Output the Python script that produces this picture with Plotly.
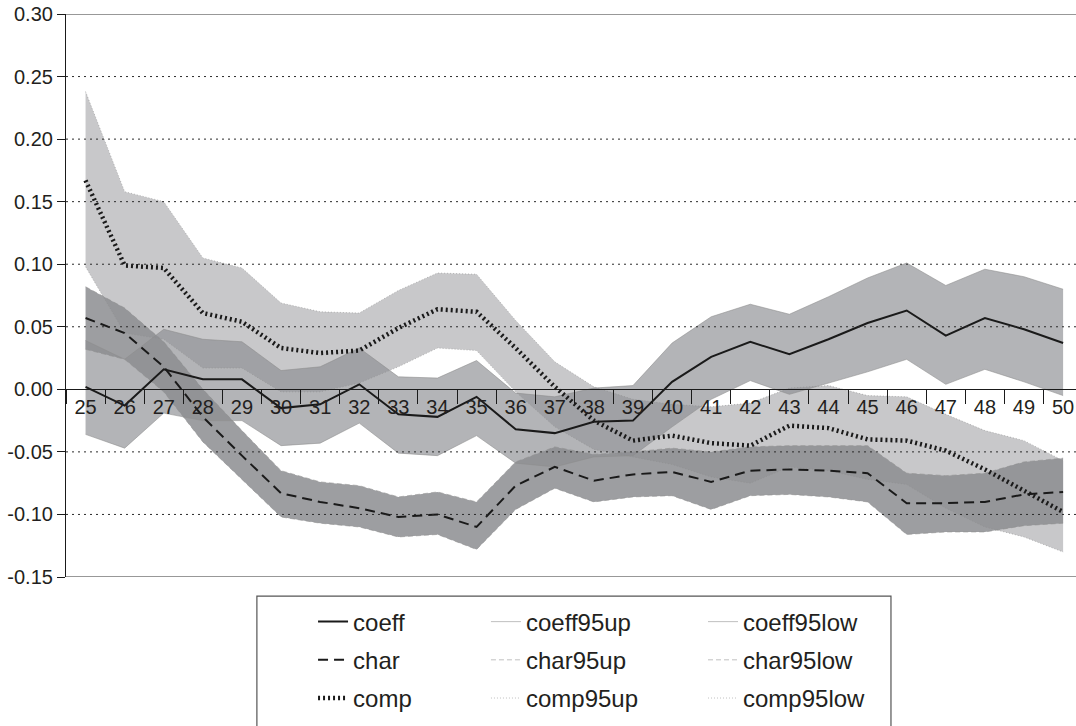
import plotly.graph_objects as go

# Horizon (quarters) on the x axis
horizons = [str(h) for h in range(25, 51)]

coeff = [0.002, -0.013, 0.016, 0.008, 0.008, -0.015, -0.012, 0.004, -0.020, -0.022,
         -0.006, -0.032, -0.035, -0.026, -0.025, 0.006, 0.026, 0.038, 0.028, 0.040,
         0.053, 0.063, 0.043, 0.057, 0.048, 0.037]
coeff95up = [0.039, 0.024, 0.048, 0.040, 0.038, 0.015, 0.018, 0.033, 0.010, 0.009,
             0.023, -0.003, -0.006, 0.001, 0.003, 0.037, 0.058, 0.068, 0.060, 0.074,
             0.089, 0.101, 0.083, 0.096, 0.090, 0.080]
coeff95low = [-0.036, -0.047, -0.019, -0.025, -0.025, -0.045, -0.043, -0.027, -0.051, -0.053,
              -0.037, -0.059, -0.062, -0.054, -0.053, -0.030, -0.008, 0.007, -0.004, 0.005,
              0.014, 0.024, 0.004, 0.016, 0.006, -0.005]

char = [0.057, 0.045, 0.018, -0.022, -0.053, -0.083, -0.090, -0.095, -0.102, -0.100,
        -0.110, -0.077, -0.062, -0.073, -0.068, -0.066, -0.074, -0.065, -0.064, -0.065,
        -0.067, -0.091, -0.091, -0.090, -0.084, -0.082]
char95up = [0.082, 0.065, 0.038, 0.000, -0.033, -0.065, -0.074, -0.077, -0.086, -0.082,
            -0.090, -0.058, -0.046, -0.052, -0.050, -0.047, -0.050, -0.046, -0.045, -0.045,
            -0.045, -0.067, -0.069, -0.067, -0.058, -0.055]
char95low = [0.032, 0.024, -0.002, -0.042, -0.072, -0.102, -0.107, -0.110, -0.118, -0.116,
             -0.128, -0.096, -0.079, -0.090, -0.086, -0.085, -0.096, -0.085, -0.084, -0.086,
             -0.090, -0.116, -0.114, -0.114, -0.109, -0.107]

comp = [0.167, 0.099, 0.097, 0.061, 0.054, 0.033, 0.029, 0.031, 0.049, 0.064,
        0.062, 0.033, 0.002, -0.025, -0.041, -0.037, -0.043, -0.045, -0.029, -0.031,
        -0.040, -0.041, -0.049, -0.064, -0.081, -0.098]
comp95up = [0.238, 0.158, 0.150, 0.105, 0.097, 0.069, 0.062, 0.061, 0.079, 0.093,
            0.092, 0.055, 0.022, 0.002, -0.008, -0.012, -0.014, -0.011, 0.001, 0.003,
            -0.005, -0.006, -0.020, -0.033, -0.041, -0.057]
comp95low = [0.098, 0.045, 0.040, 0.017, 0.017, -0.002, -0.002, 0.005, 0.018, 0.033,
             0.031, -0.002, -0.030, -0.048, -0.054, -0.060, -0.070, -0.075, -0.062, -0.065,
             -0.072, -0.076, -0.095, -0.110, -0.118, -0.130]

y_ticks = [0.30, 0.25, 0.20, 0.15, 0.10, 0.05, 0.00, -0.05, -0.10, -0.15]
y_labels = ['0.30', '0.25', '0.20', '0.15', '0.10', '0.05', '0.00', '-0.05', '-0.10', '-0.15']

FONT = 'Liberation Sans, Arial, sans-serif'
TEXT_COLOUR = '#231f20'
BOUND_COLOUR = '#8e8e8e'
COMP_FILL = 'rgba(140,141,145,0.48)'
COEFF_FILL = 'rgba(140,141,145,0.66)'
CHAR_FILL = 'rgba(140,141,145,0.85)'

fig = go.Figure()

# shaded confidence bands (lightest first)
for low, up, fill in [(comp95low, comp95up, COMP_FILL),
                      (coeff95low, coeff95up, COEFF_FILL),
                      (char95low, char95up, CHAR_FILL)]:
    fig.add_trace(go.Scatter(x=horizons, y=low, mode='lines', line=dict(width=0),
                             showlegend=False, hoverinfo='skip'))
    fig.add_trace(go.Scatter(x=horizons, y=up, mode='lines', line=dict(width=0),
                             fill='tonexty', fillcolor=fill,
                             showlegend=False, hoverinfo='skip'))

# thin band edges, these also make up legend columns 2 and 3
bounds = [('coeff95up', coeff95up, 'solid', 'legend2', 1),
          ('char95up', char95up, '5px,3px', 'legend2', 2),
          ('comp95up', comp95up, '1px,2px', 'legend2', 3),
          ('coeff95low', coeff95low, 'solid', 'legend3', 1),
          ('char95low', char95low, '5px,3px', 'legend3', 2),
          ('comp95low', comp95low, '1px,2px', 'legend3', 3)]
for name, vals, dash, leg, rank in bounds:
    fig.add_trace(go.Scatter(x=horizons, y=vals, mode='lines', name=name,
                             line=dict(color=BOUND_COLOUR, width=0.7, dash=dash),
                             opacity=0.8,
                             legend=leg, legendrank=rank, legendgroup=name))

# point estimates
fig.add_trace(go.Scatter(x=horizons, y=comp, mode='lines', name='comp',
                         line=dict(color='#1a1a1a', width=4.5, dash='2px,3px'),
                         legendrank=3, legendgroup='comp'))
fig.add_trace(go.Scatter(x=horizons, y=char, mode='lines', name='char',
                         line=dict(color='#1a1a1a', width=2, dash='10px,6px'),
                         legendrank=2, legendgroup='char'))
fig.add_trace(go.Scatter(x=horizons, y=coeff, mode='lines', name='coeff',
                         line=dict(color='#1a1a1a', width=2),
                         legendrank=1, legendgroup='coeff'))

# dotted grid drawn over the bands
for v in y_ticks:
    if v in (0.30, -0.15):
        fig.add_shape(type='line', xref='paper', x0=0, x1=1, yref='y', y0=v, y1=v,
                      line=dict(color='#333333', width=1.2), layer='above')
    elif v != 0:
        fig.add_shape(type='line', xref='paper', x0=0, x1=1, yref='y', y0=v, y1=v,
                      line=dict(color='#2a2a2a', width=1, dash='2px,4px'), layer='above')

# legend frame
fig.add_shape(type='rect', xref='paper', yref='paper', x0=0.189, x1=0.8168,
              y0=-0.034, y1=-0.30, line=dict(color='#555555', width=1.2),
              fillcolor='rgba(0,0,0,0)')

leg_common = dict(orientation='v', bgcolor='rgba(0,0,0,0)', borderwidth=0,
                  font=dict(family=FONT, size=24, color=TEXT_COLOUR),
                  tracegroupgap=4, xanchor='left', yanchor='top', y=-0.040)

fig.update_layout(
    width=1076, height=726,
    margin=dict(l=66, r=0, t=14, b=149, autoexpand=False),
    plot_bgcolor='white', paper_bgcolor='white',
    font=dict(family=FONT, size=20, color=TEXT_COLOUR),
    showlegend=True,
    legend=dict(x=0.2446, **leg_common),
    legend2=dict(x=0.4158, **leg_common),
    legend3=dict(x=0.6307, **leg_common),
)
fig.update_xaxes(type='category', range=[-0.5, 25.33], anchor='free', position=1 / 3,
                 showline=True, linecolor='#1a1a1a', linewidth=1.2, automargin=False,
                 ticks='outside', tickson='boundaries', ticklen=14, tickcolor='#1a1a1a',
                 showgrid=False, zeroline=False,
                 tickfont=dict(family=FONT, size=20, color=TEXT_COLOUR))
fig.update_yaxes(range=[-0.15, 0.30], tickvals=y_ticks, ticktext=y_labels,
                 showline=True, linecolor='#1a1a1a', linewidth=1.2, automargin=False,
                 ticks='outside', ticklen=8, tickcolor='#1a1a1a',
                 showgrid=False, zeroline=False,
                 tickfont=dict(family=FONT, size=20, color=TEXT_COLOUR))

# drop the default 8px page margin so the figure fills the window exactly
fig.write_html('out.html', config={'displayModeBar': False},
               post_script="document.body.style.margin='0';")
